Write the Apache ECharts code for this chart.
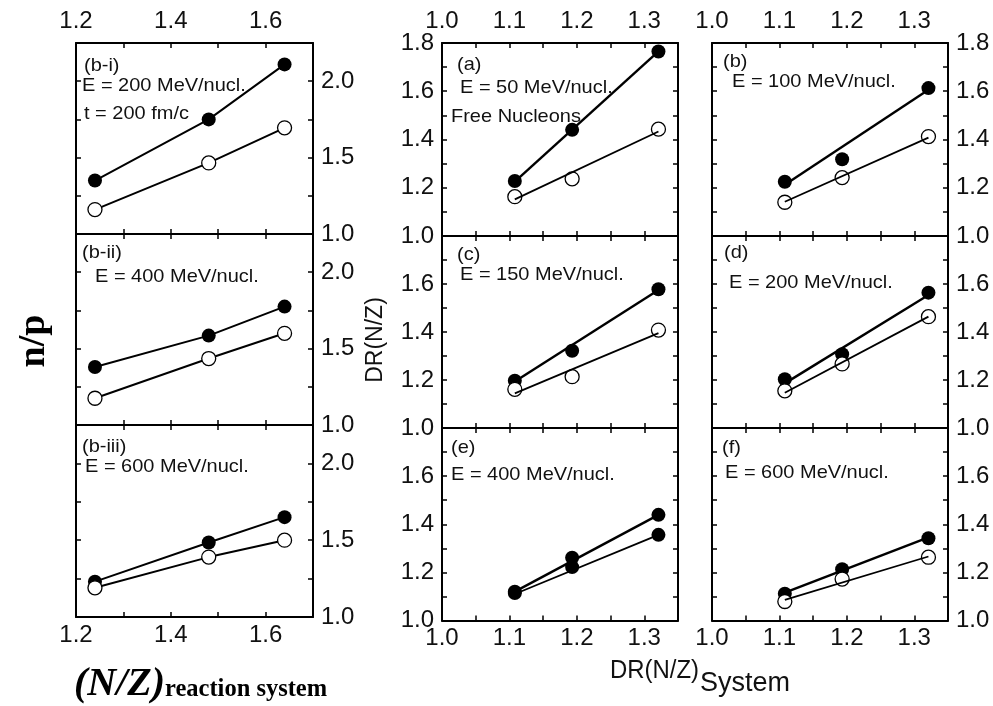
<!DOCTYPE html>
<html><head><meta charset="utf-8">
<script src="https://cdn.jsdelivr.net/npm/echarts@6/dist/echarts.min.js"></script>
<style>html,body{margin:0;padding:0;background:#fff}#c{width:993px;height:706px}</style>
</head><body><div id="c"></div>
<script>
// ---------- data: left column, n/p vs (N/Z) reaction system ----------
const nzReaction = [1.24, 1.48, 1.64];
const npBiFilled   = [1.35, 1.75, 2.11];
const npBiOpen     = [1.16, 1.465, 1.695];
const npBiiFilled  = [1.38, 1.585, 1.775];
const npBiiOpen    = [1.175, 1.435, 1.60];
const npBiiiFilled = [1.23, 1.485, 1.65];
const npBiiiOpen   = [1.19, 1.39, 1.50];

// ---------- data: DR(N/Z) vs DR(N/Z)System ----------
const drSystem = [1.108, 1.193, 1.321];
const drAFilled = [1.228, 1.44, 1.765],  drAOpen = [1.163, 1.237, 1.443];
const drBFilled = [1.225, 1.318, 1.613], drBOpen = [1.14, 1.242, 1.412];
const drCFilled = [1.197, 1.322, 1.578], drCOpen = [1.161, 1.214, 1.408];
const drDFilled = [1.203, 1.307, 1.564], drDOpen = [1.155, 1.267, 1.464];
const drEUpper  = [1.12, 1.261, 1.439],  drELower = [1.114, 1.222, 1.356];
const drFFilled = [1.111, 1.213, 1.342], drFOpen = [1.079, 1.172, 1.263];
// straight fit lines (values at first and last DR(N/Z)System)
const fitAFilled = [1.225, 1.765], fitAOpen = [1.152, 1.433];
const fitBFilled = [1.212, 1.606], fitBOpen = [1.142, 1.408];
const fitCFilled = [1.194, 1.575], fitCOpen = [1.144, 1.395];
const fitDFilled = [1.186, 1.554], fitDOpen = [1.147, 1.464];
const fitEUpper  = [1.12, 1.439],  fitELower = [1.11, 1.356];
const fitFFilled = [1.116, 1.345], fitFOpen = [1.086, 1.266];

// ---------- tick settings ----------
const leftX  = {min: 1.2, max: 1.7, interval: 0.1};
const leftY  = {min: 1.0, max: 2.25, interval: 0.25};
const rightX = {min: 1.0, max: 1.35, interval: 0.05};
const rightY = {min: 1.0, max: 1.8, interval: 0.1};

// ---------- layout ----------
const grids = [
  {left: 76, top: 43, width: 237, height: 191},
  {left: 76, top: 234, width: 237, height: 191},
  {left: 76, top: 425, width: 237, height: 192},
  {left: 442, top: 43, width: 236, height: 193},
  {left: 712, top: 43, width: 236, height: 193},
  {left: 442, top: 236, width: 236, height: 192},
  {left: 712, top: 236, width: 236, height: 192},
  {left: 442, top: 428, width: 236, height: 192.5},
  {left: 712, top: 428, width: 236, height: 192.5}
];

const FONT = 'Liberation Sans, Arial, sans-serif';
const SERIF = 'Liberation Serif, Times New Roman, serif';
const xAxes = [], yAxes = [], series = [];

const fmtLeftX = v => (Math.round(v * 10) % 2 === 0 && v < 1.65) ? v.toFixed(1) : '';
const fmtLeftY = v => (Math.abs(v * 2 - Math.round(v * 2)) < 1e-6) ? v.toFixed(1) : '';
const fmtRightX = v => (Math.round(v * 100) % 10 === 0) ? v.toFixed(1) : '';
const fmtRightYTop = v => (Math.round(v * 10) % 2 === 0) ? v.toFixed(1) : '';
const fmtRightY = v => (Math.round(v * 10) % 2 === 0 && v < 1.75) ? v.toFixed(1) : '';

function axis(range, pos, gi, showLabel, fmt, margin) {
  return {
    type: 'value', gridIndex: gi, position: pos,
    min: range.min, max: range.max, interval: range.interval,
    axisLine: {show: true, onZero: false, lineStyle: {color: '#000', width: 2}},
    axisTick: {show: true, inside: true, length: 5, lineStyle: {color: '#000', width: 1.5}},
    splitLine: {show: false},
    axisLabel: {show: showLabel, formatter: fmt, margin: margin, color: '#111',
      fontSize: 24, fontFamily: FONT}
  };
}

function addPanel(gi, kind, opt) {
  const xr = kind === 'left' ? leftX : rightX;
  const yr = kind === 'left' ? leftY : rightY;
  const fx = kind === 'left' ? fmtLeftX : fmtRightX;
  const xb = xAxes.length;
  xAxes.push(axis(xr, 'bottom', gi, !!opt.bottomLabels, fx, 6));
  xAxes.push(axis(xr, 'top', gi, !!opt.topLabels, fx, 10));
  const yb = yAxes.length;
  let fy;
  if (kind === 'left') fy = fmtLeftY; else fy = opt.topRow ? fmtRightYTop : fmtRightY;
  yAxes.push(axis(yr, 'left', gi, opt.yLabelSide === 'left', fy, 8));
  yAxes.push(axis(yr, 'right', gi, opt.yLabelSide === 'right', fy, 8));
  return {xi: xb, yi: yb};
}

function zip(xs, ys) { return xs.map((x, i) => [x, ys[i]]); }

const filledStyle = {color: '#000', opacity: 1};
const openStyle = {color: '#fff', borderColor: '#000', borderWidth: 1.3, opacity: 1};

function connected(ax, xs, ys, style) {
  series.push({
    type: 'line', xAxisIndex: ax.xi, yAxisIndex: ax.yi, data: zip(xs, ys),
    symbol: 'circle', symbolSize: 14, showSymbol: true, itemStyle: style,
    lineStyle: {color: '#000', width: 2}, silent: true, animation: false, z: 3
  });
}
function points(ax, xs, ys, style) {
  series.push({
    type: 'scatter', xAxisIndex: ax.xi, yAxisIndex: ax.yi, data: zip(xs, ys),
    symbol: 'circle', symbolSize: 14, itemStyle: style, silent: true, animation: false, z: 2
  });
}
function fit(ax, xs, ends, width) {
  series.push({
    type: 'line', xAxisIndex: ax.xi, yAxisIndex: ax.yi,
    data: [[xs[0], ends[0]], [xs[xs.length - 1], ends[1]]],
    showSymbol: false, symbol: 'none', lineStyle: {color: '#000', width: width},
    silent: true, animation: false, z: 4
  });
}

// left column
let ax = addPanel(0, 'left', {topLabels: true, yLabelSide: 'right'});
connected(ax, nzReaction, npBiFilled, filledStyle); connected(ax, nzReaction, npBiOpen, openStyle);
ax = addPanel(1, 'left', {yLabelSide: 'right'});
connected(ax, nzReaction, npBiiFilled, filledStyle); connected(ax, nzReaction, npBiiOpen, openStyle);
ax = addPanel(2, 'left', {bottomLabels: true, yLabelSide: 'right'});
connected(ax, nzReaction, npBiiiFilled, filledStyle); connected(ax, nzReaction, npBiiiOpen, openStyle);

// right block
const rightPanels = [
  [3, {topLabels: true, topRow: true, yLabelSide: 'left'}, drAFilled, drAOpen, fitAFilled, fitAOpen, false],
  [4, {topLabels: true, topRow: true, yLabelSide: 'right'}, drBFilled, drBOpen, fitBFilled, fitBOpen, false],
  [5, {yLabelSide: 'left'}, drCFilled, drCOpen, fitCFilled, fitCOpen, false],
  [6, {yLabelSide: 'right'}, drDFilled, drDOpen, fitDFilled, fitDOpen, false],
  [7, {bottomLabels: true, yLabelSide: 'left'}, drEUpper, drELower, fitEUpper, fitELower, true],
  [8, {bottomLabels: true, yLabelSide: 'right'}, drFFilled, drFOpen, fitFFilled, fitFOpen, false]
];
rightPanels.forEach(p => {
  const a = addPanel(p[0], 'right', p[1]);
  points(a, drSystem, p[2], filledStyle);
  points(a, drSystem, p[3], p[6] ? filledStyle : openStyle);
  fit(a, drSystem, p[4], 2.4);
  fit(a, drSystem, p[5], 1.8);
});

// ---------- text annotations ----------
const notes = [
  ['(b-i)', 84, 66], ['E = 200 MeV/nucl.', 82, 86], ['t = 200 fm/c', 84, 114],
  ['(b-ii)', 82, 253], ['E = 400 MeV/nucl.', 95, 277],
  ['(b-iii)', 82, 447], ['E = 600 MeV/nucl.', 85, 467],
  ['(a)', 457, 65], ['E = 50 MeV/nucl.', 460, 88], ['Free Nucleons', 451, 117],
  ['(b)', 723, 62], ['E = 100 MeV/nucl.', 732, 82],
  ['(c)', 457, 255], ['E = 150 MeV/nucl.', 460, 275],
  ['(d)', 724, 253], ['E = 200 MeV/nucl.', 729, 283],
  ['(e)', 451, 448], ['E = 400 MeV/nucl.', 451, 475],
  ['(f)', 722, 448], ['E = 600 MeV/nucl.', 725, 473]
];
const graphic = notes.map(n => ({
  type: 'text', x: n[1], y: n[2], scaleX: 1.08, z: 10, silent: true,
  style: {text: n[0], fill: '#111', fontSize: 18.5, fontFamily: FONT, align: 'left', verticalAlign: 'middle'}
}));
graphic.push(
  {type: 'text', x: 34, y: 341, rotation: Math.PI / 2, silent: true,
   style: {text: 'n/p', fill: '#000', fontSize: 38, fontWeight: 'bold', fontFamily: SERIF, align: 'center', verticalAlign: 'middle'}},
  {type: 'text', x: 376, y: 340, rotation: Math.PI / 2, silent: true,
   style: {text: 'DR(N/Z)', fill: '#111', fontSize: 23, fontFamily: FONT, align: 'center', verticalAlign: 'middle'}},
  {type: 'text', x: 610, y: 671, scaleX: 0.92, silent: true,
   style: {text: 'DR(N/Z)', fill: '#111', fontSize: 26, fontFamily: FONT, align: 'left', verticalAlign: 'middle'}},
  {type: 'text', x: 700, y: 684, silent: true,
   style: {text: 'System', fill: '#111', fontSize: 27, fontFamily: FONT, align: 'left', verticalAlign: 'middle'}},
  {type: 'text', x: 74, y: 685, silent: true,
   style: {text: '(N/Z)', fill: '#000', fontSize: 40, fontWeight: 'bold', fontStyle: 'italic', fontFamily: SERIF, align: 'left', verticalAlign: 'middle'}},
  {type: 'text', x: 165, y: 690, silent: true,
   style: {text: 'reaction system', fill: '#000', fontSize: 24.5, fontWeight: 'bold', fontFamily: SERIF, align: 'left', verticalAlign: 'middle'}}
);

const chart = echarts.init(document.getElementById('c'), null, {renderer: 'canvas'});
chart.setOption({
  animation: false,
  backgroundColor: '#fff',
  grid: grids,
  xAxis: xAxes,
  yAxis: yAxes,
  series: series,
  graphic: graphic
});
</script></body></html>
